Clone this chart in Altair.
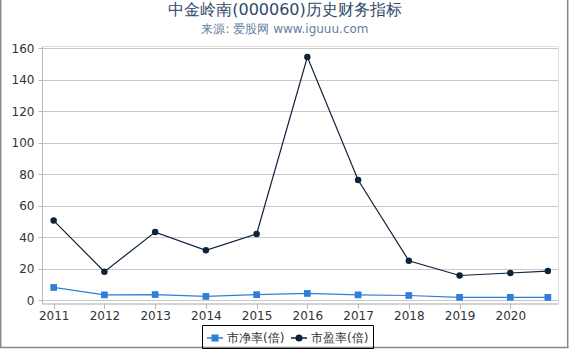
import altair as alt
import pandas as pd

# ---- data ----
x_years = [2011, 2012, 2013, 2014, 2015, 2016, 2017, 2018, 2019, 2020, 2020.74]
pb_values = [8.0, 3.3, 3.5, 2.3, 3.4, 4.2, 3.3, 2.9, 1.7, 1.7, 1.7]
pe_values = [50.5, 18.0, 43.2, 31.6, 42.0, 154.5, 76.3, 25.0, 15.6, 17.2, 18.4]
series_names = ["市净率(倍)", "市盈率(倍)"]
series_colors = ["#2f7ed8", "#0d233a"]
x_ticks = [2011, 2012, 2013, 2014, 2015, 2016, 2017, 2018, 2019, 2020]
y_ticks = [0, 20, 40, 60, 80, 100, 120, 140, 160]

rows = []
for name, vals in zip(series_names, [pb_values, pe_values]):
    for xv, v in zip(x_years, vals):
        rows.append({"series": name, "year": xv, "value": v})
df = pd.DataFrame(rows)

FONT = "DejaVu Sans"
W, H = 516, 257.5

x_enc = alt.X("year:Q",
              scale=alt.Scale(domain=[2010.77, 2020.94], nice=False, zero=False),
              axis=alt.Axis(values=x_ticks, tickCount=12, format="d", title=None, grid=False,
                            domainColor="#b8b8b8", tickColor="#b8b8b8", tickSize=5,
                            labelFont=FONT, labelFontSize=12, labelColor="#333333",
                            labelPadding=2, labelFlush=False, labelOverlap=False))
y_enc = alt.Y("value:Q",
              scale=alt.Scale(domain=[-2.2, 161.5], nice=False, zero=False),
              axis=alt.Axis(values=y_ticks, tickCount=10, title=None, grid=True,
                            gridColor="#c8c8c8",
                            domainColor="#b8b8b8", tickColor="#b8b8b8", tickSize=4,
                            labelFont=FONT, labelFontSize=12, labelColor="#333333",
                            labelPadding=4, labelOverlap=False))

base = alt.Chart(df)

def series_layers(idx, shape, size):
    sub = base.transform_filter(alt.datum.series == series_names[idx])
    ln = sub.mark_line(strokeWidth=1.2, color=series_colors[idx]).encode(x=x_enc, y=y_enc)
    pt = sub.mark_point(shape=shape, filled=True, size=size, opacity=1,
                        color=series_colors[idx]).encode(x="year:Q", y="value:Q")
    return ln, pt

pb_line, pb_pts = series_layers(0, "square", 45)
pe_line, pe_pts = series_layers(1, "circle", 42)

sq_path = "M-1,0L1,0M-0.36,-0.36L0.36,-0.36L0.36,0.36L-0.36,0.36Z"
ci_path = "M-1,0L1,0M-0.36,0A0.36,0.36 0 1,1 0.36,0A0.36,0.36 0 1,1 -0.36,0Z"

leg = alt.Legend(title=None, orient="none", legendX=160, legendY=279,
                 direction="horizontal", strokeColor="black",
                 padding=4, symbolSize=256, symbolStrokeWidth=1.3,
                 symbolOpacity=1, labelFont=FONT, labelFontSize=12,
                 labelColor="#333333", columnPadding=3, labelOffset=3)

legend_layer = base.mark_point(filled=True, opacity=0).encode(
    x="year:Q", y="value:Q",
    fill=alt.Fill("series:N", scale=alt.Scale(domain=series_names, range=series_colors),
                  legend=leg),
    stroke=alt.Stroke("series:N", scale=alt.Scale(domain=series_names, range=series_colors),
                      legend=leg),
    shape=alt.Shape("series:N", scale=alt.Scale(domain=series_names, range=[sq_path, ci_path]),
                    legend=leg),
)

frame_df = pd.DataFrame({"k": [0]})
frame = alt.Chart(frame_df)
left_edge = frame.mark_rule(color="#888888", strokeWidth=1.5).encode(
    x=alt.value(-41.3), y=alt.value(-46), y2=alt.value(302))
right_edge = frame.mark_rule(color="#888888", strokeWidth=1.5).encode(
    x=alt.value(525.7), y=alt.value(-46), y2=alt.value(302))
bottom_edge = frame.mark_rule(color="#888888", strokeWidth=1.5).encode(
    x=alt.value(-42), x2=alt.value(526.5), y=alt.value(301.5))

chart = alt.layer(pb_line, pe_line, pb_pts, pe_pts, legend_layer,
                  left_edge, right_edge, bottom_edge).properties(
    width=W, height=H,
    title=alt.TitleParams(
        text="中金岭南(000060)历史财务指标",
        subtitle="来源: 爱股网 www.iguuu.com",
        anchor="middle", frame="group", dx=-15, offset=-36,
        font=FONT, fontSize=16, fontWeight="normal", color="#2f4b69",
        subtitleFont=FONT, subtitleFontSize=12, subtitleColor="#5f7fa3",
        subtitlePadding=6,
    ),
    autosize=alt.AutoSizeParams(type="none"),
    padding={"left": 42, "top": 46, "right": 12, "bottom": 46.5},
).configure_view(stroke=None).configure(background="white")

chart.save("out.html", embed_options={"renderer": "svg", "actions": False})
